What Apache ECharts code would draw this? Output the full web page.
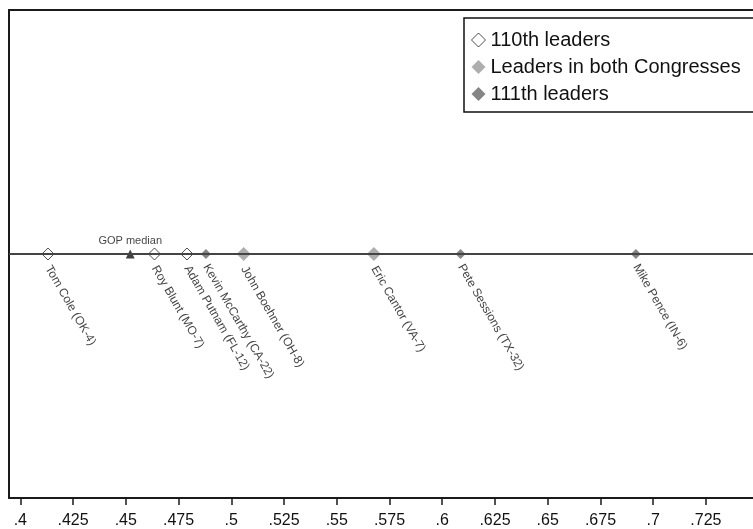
<!DOCTYPE html>
<html>
<head>
<meta charset="utf-8">
<script src="https://cdn.jsdelivr.net/npm/echarts@6/dist/echarts.min.js"></script>
<style>
html,body{margin:0;padding:0;background:#fff;}
#chart{width:753px;height:529px;}
</style>
</head>
<body>
<div id="chart"></div>
<script>
// Data
var names110 = ['Tom Cole (OK-4)', 'Roy Blunt (MO-7)', 'Adam Putnam (FL-12)'];
var vals110 = [0.4131, 0.4636, 0.4790];
var namesBoth = ['John Boehner (OH-8)', 'Eric Cantor (VA-7)'];
var valsBoth = [0.5059, 0.5676];
var names111 = ['Kevin McCarthy (CA-22)', 'Pete Sessions (TX-32)', 'Mike Pence (IN-6)'];
var vals111 = [0.4880, 0.6087, 0.6918];
var medianName = ['GOP median'];
var medianVal = [0.4521];
var tickValues = [0.4, 0.425, 0.45, 0.475, 0.5, 0.525, 0.55, 0.575, 0.6, 0.625, 0.65, 0.675, 0.7, 0.725];
var legendNames = ['110th leaders', 'Leaders in both Congresses', '111th leaders'];
var rowY = 0.5;

var FONT = "'Liberation Sans', Arial, sans-serif";

function pts(names, vals) {
  return vals.map(function (v, i) { return { name: names[i], value: [v, rowY] }; });
}

var pointLabel = {
  show: true,
  position: 'bottom',
  distance: 6,
  rotate: -60,
  align: 'left',
  verticalAlign: 'middle',
  formatter: '{b}',
  fontFamily: FONT,
  fontSize: 12,
  color: '#111'
};

var frameLine = { color: '#1a1a1a', width: 2 };

var chart = echarts.init(document.getElementById('chart'), null, { renderer: 'canvas' });
chart.setOption({
  animation: false,
  backgroundColor: '#fff',
  grid: {
    show: false,
    left: 9,
    top: 10,
    bottom: 31,
    right: 0
  },
  xAxis: [
    {
      type: 'value',
      min: 0.39464,
      max: 0.74731,
      position: 'bottom',
      axisLine: { show: true, lineStyle: frameLine },
      axisTick: { show: true, customValues: tickValues, length: 7, lineStyle: { color: '#1a1a1a', width: 1.5 } },
      axisLabel: {
        show: true,
        customValues: tickValues,
        margin: 15,
        fontFamily: FONT,
        fontSize: 16,
        color: '#111',
        formatter: function (v) { return String(+v.toFixed(3)).replace(/^0/, ''); }
      },
      splitLine: { show: false }
    },
    {
      type: 'value',
      min: 0.39464,
      max: 0.74731,
      position: 'top',
      axisLine: { show: true, lineStyle: frameLine },
      axisTick: { show: false },
      axisLabel: { show: false },
      splitLine: { show: false }
    }
  ],
  yAxis: {
    type: 'value',
    min: 0,
    max: 1,
    axisLine: { show: true, lineStyle: frameLine },
    axisTick: { show: false },
    axisLabel: { show: false },
    splitLine: { show: false }
  },
  legend: {
    left: 464,
    top: 18,
    orient: 'vertical',
    padding: [12, 40, 8, 7],
    itemGap: 7,
    itemWidth: 14,
    itemHeight: 14,
    borderColor: '#111',
    borderWidth: 1.5,
    backgroundColor: '#fff',
    textStyle: { fontFamily: FONT, fontSize: 20, color: '#111' },
    data: [
      { name: legendNames[0], icon: 'diamond', itemStyle: { color: '#fff', borderColor: '#222', borderWidth: 1 } },
      { name: legendNames[1], icon: 'diamond' },
      { name: legendNames[2], icon: 'diamond' }
    ]
  },
  series: [
    {
      name: 'line',
      type: 'scatter',
      data: [],
      silent: true,
      markLine: {
        silent: true,
        symbol: ['none', 'none'],
        label: { show: false },
        lineStyle: { color: '#444', width: 2, type: 'solid' },
        data: [{ yAxis: rowY }]
      }
    },
    {
      name: legendNames[0],
      type: 'scatter',
      symbol: 'diamond',
      symbolSize: 12,
      itemStyle: { color: '#fff', borderColor: '#222', borderWidth: 1 },
      label: pointLabel,
      data: pts(names110, vals110),
      z: 3
    },
    {
      name: legendNames[1],
      type: 'scatter',
      symbol: 'diamond',
      symbolSize: 14,
      itemStyle: { color: '#9a9a9a' },
      label: pointLabel,
      data: pts(namesBoth, valsBoth),
      z: 3
    },
    {
      name: legendNames[2],
      type: 'scatter',
      symbol: 'diamond',
      symbolSize: 10,
      itemStyle: { color: '#666' },
      label: pointLabel,
      data: pts(names111, vals111),
      z: 3
    },
    {
      name: 'median',
      type: 'scatter',
      symbol: 'triangle',
      symbolSize: 9,
      itemStyle: { color: '#111' },
      label: {
        show: true,
        position: 'top',
        distance: 3,
        formatter: '{b}',
        fontFamily: FONT,
        fontSize: 11,
        color: '#111'
      },
      data: pts(medianName, medianVal),
      z: 3
    }
  ]
});
</script>
</body>
</html>
